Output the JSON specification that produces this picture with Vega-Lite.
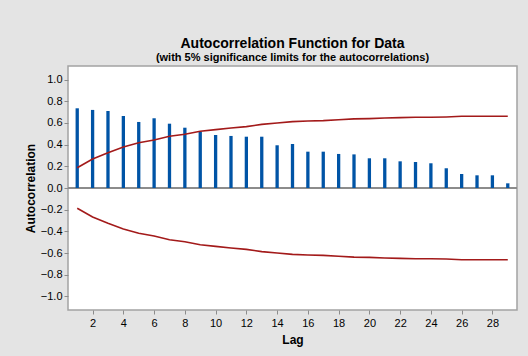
{
  "$schema": "https://vega.github.io/schema/vega-lite/v6.json",
  "autosize": {"type": "none"},
  "width": 449,
  "height": 244,
  "padding": {"left": 68, "top": 66, "right": 11, "bottom": 46},
  "background": "#e4e4e4",
  "config": {
    "view": {"fill": "white", "stroke": "#a3a3a3", "strokeWidth": 1.5},
    "font": "Liberation Sans",
    "axis": {
      "grid": false,
      "domain": false,
      "tickColor": "#8c8c8c",
      "tickSize": 4,
      "labelColor": "black",
      "labelFontSize": 11,
      "labelOverlap": false,
      "labelFont": "Liberation Sans",
      "titleFont": "Liberation Sans",
      "titleFontSize": 12,
      "titleFontWeight": "bold",
      "titleColor": "black"
    }
  },
  "title": {
    "text": "Autocorrelation Function for Data",
    "subtitle": "(with 5% significance limits for the autocorrelations)",
    "anchor": "middle",
    "font": "Liberation Sans",
    "fontSize": 14,
    "fontWeight": "bold",
    "color": "black",
    "subtitleFont": "Liberation Sans",
    "subtitleFontSize": 11,
    "subtitleFontWeight": "bold",
    "subtitleColor": "black",
    "subtitlePadding": 1,
    "offset": 3
  },
  "data": {
    "values": [
      {"lag": 1, "acf": 0.735, "upper": 0.187, "lower": -0.187},
      {"lag": 2, "acf": 0.72, "upper": 0.268, "lower": -0.268},
      {"lag": 3, "acf": 0.71, "upper": 0.326, "lower": -0.326},
      {"lag": 4, "acf": 0.664, "upper": 0.378, "lower": -0.378},
      {"lag": 5, "acf": 0.609, "upper": 0.418, "lower": -0.418},
      {"lag": 6, "acf": 0.643, "upper": 0.443, "lower": -0.443},
      {"lag": 7, "acf": 0.593, "upper": 0.477, "lower": -0.477},
      {"lag": 8, "acf": 0.556, "upper": 0.495, "lower": -0.495},
      {"lag": 9, "acf": 0.52, "upper": 0.523, "lower": -0.523},
      {"lag": 10, "acf": 0.489, "upper": 0.538, "lower": -0.538},
      {"lag": 11, "acf": 0.48, "upper": 0.553, "lower": -0.553},
      {"lag": 12, "acf": 0.473, "upper": 0.566, "lower": -0.566},
      {"lag": 13, "acf": 0.473, "upper": 0.587, "lower": -0.587},
      {"lag": 14, "acf": 0.394, "upper": 0.6, "lower": -0.6},
      {"lag": 15, "acf": 0.406, "upper": 0.612, "lower": -0.612},
      {"lag": 16, "acf": 0.335, "upper": 0.618, "lower": -0.618},
      {"lag": 17, "acf": 0.335, "upper": 0.621, "lower": -0.621},
      {"lag": 18, "acf": 0.314, "upper": 0.63, "lower": -0.63},
      {"lag": 19, "acf": 0.31, "upper": 0.637, "lower": -0.637},
      {"lag": 20, "acf": 0.274, "upper": 0.64, "lower": -0.64},
      {"lag": 21, "acf": 0.274, "upper": 0.646, "lower": -0.646},
      {"lag": 22, "acf": 0.246, "upper": 0.649, "lower": -0.649},
      {"lag": 23, "acf": 0.24, "upper": 0.652, "lower": -0.652},
      {"lag": 24, "acf": 0.228, "upper": 0.652, "lower": -0.652},
      {"lag": 25, "acf": 0.182, "upper": 0.655, "lower": -0.655},
      {"lag": 26, "acf": 0.129, "upper": 0.661, "lower": -0.661},
      {"lag": 27, "acf": 0.117, "upper": 0.661, "lower": -0.661},
      {"lag": 28, "acf": 0.117, "upper": 0.661, "lower": -0.661},
      {"lag": 29, "acf": 0.043, "upper": 0.661, "lower": -0.661}
    ]
  },
  "encoding": {
    "x": {
      "field": "lag",
      "type": "quantitative",
      "scale": {"domain": [0.4, 29.6], "nice": false, "zero": false},
      "axis": {
        "title": "Lag",
        "values": [2, 4, 6, 8, 10, 12, 14, 16, 18, 20, 22, 24, 26, 28],
        "tickCount": 30,
        "labelOverlap": false,
        "labelPadding": 3,
        "titlePadding": 6
      }
    }
  },
  "layer": [
    {
      "mark": {"type": "rule", "color": "#8c8c8c", "strokeWidth": 1.2},
      "encoding": {"x": null, "y": {"datum": 0, "type": "quantitative"}}
    },
    {
      "mark": {"type": "rule", "color": "#0054a6", "strokeWidth": 3.3},
      "encoding": {
        "y": {
          "field": "acf",
          "type": "quantitative",
          "scale": {"domain": [-1.125, 1.125], "nice": false},
          "axis": {
            "title": "Autocorrelation",
            "values": [-1, -0.8, -0.6, -0.4, -0.2, 0, 0.2, 0.4, 0.6, 0.8, 1],
            "tickCount": 20,
            "format": ".1f",
            "labelOverlap": false,
            "labelPadding": 2,
            "titlePadding": 3
          }
        },
        "y2": {"datum": 0}
      }
    },
    {
      "mark": {"type": "line", "color": "#a31a1a", "strokeWidth": 1.6},
      "encoding": {"y": {"field": "upper", "type": "quantitative"}}
    },
    {
      "mark": {"type": "line", "color": "#a31a1a", "strokeWidth": 1.6},
      "encoding": {"y": {"field": "lower", "type": "quantitative"}}
    }
  ]
}
